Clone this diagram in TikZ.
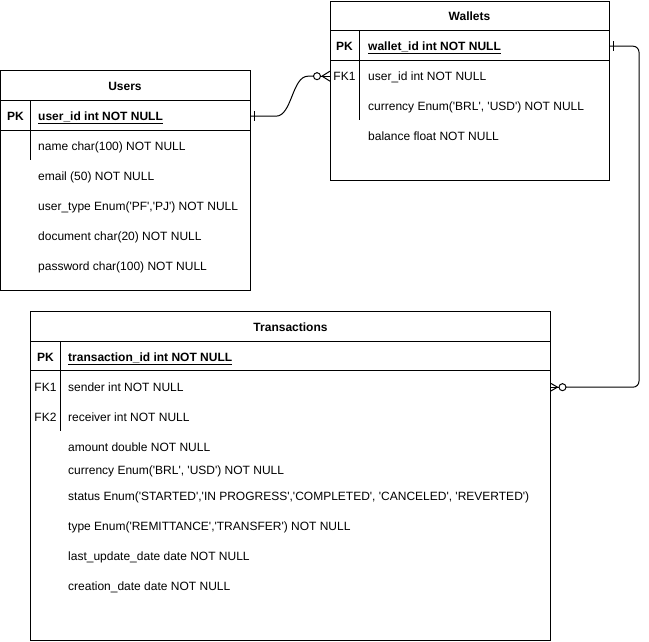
\documentclass[tikz,border=0pt]{standalone}
\usepackage{fontspec}
\setmainfont{Liberation Sans}[Ligatures=TeXOff]
\begin{document}
\begin{tikzpicture}[x=1pt,y=-1pt,
  tbl/.style={draw, line width=1pt, anchor=north west, inner sep=0pt, outer sep=0pt},
  fld/.style={anchor=base west, inner sep=0pt, font=\fontsize{12}{14}\selectfont},
  keylbl/.style={anchor=base, inner sep=0pt, font=\fontsize{12}{14}\selectfont\bfseries},
  pkfld/.style={anchor=base west, inner sep=0pt, font=\fontsize{12}{14}\selectfont\bfseries},
  fklbl/.style={anchor=base, inner sep=0pt, font=\fontsize{12}{14}\selectfont},
  ttl/.style={anchor=base, inner sep=0pt, font=\fontsize{12}{14}\selectfont\bfseries},
  ln/.style={line width=1pt},
]
\useasboundingbox (0,0) rectangle (649,641);

% ---------------- Users ----------------
\node[tbl, minimum width=249.5pt, minimum height=220pt] (users) at (0.5,70) {};
\draw[ln] (0.5,100) -- (250,100);
\draw[ln] (0.5,130) -- (250,130);
\draw[ln] (30.5,100) -- (30.5,160);
\node[ttl] (ut) at (125,90.3) {Users};
\node[keylbl] (upk) at (15.5,120.3) {PK};
\node[pkfld] (upkf) at (38,120.3) {\underline{user\_id int NOT NULL}};
\node[fld] (u1) at (38,150.3) {name char(100) NOT NULL};
\node[fld] (u2) at (38,180.3) {email (50) NOT NULL};
\node[fld] (u3) at (38,210.3) {user\_type Enum('PF','PJ') NOT NULL};
\node[fld] (u4) at (38,240.3) {document char(20) NOT NULL};
\node[fld] (u5) at (38,270.3) {password char(100) NOT NULL};

% ---------------- Wallets ----------------
\node[tbl, minimum width=279pt, minimum height=179pt] (wallets) at (330,1) {};
\draw[ln] (330,30.5) -- (609,30.5);
\draw[ln] (330,60) -- (609,60);
\draw[ln] (359.5,30.5) -- (359.5,120);
\node[ttl] (wt) at (469.5,20.3) {Wallets};
\node[keylbl] (wpk) at (344.5,50.3) {PK};
\node[pkfld] (wpkf) at (368,50.3) {\underline{wallet\_id int NOT NULL}};
\node[fklbl] (wfk) at (344.5,80.3) {FK1};
\node[fld] (w1) at (368,80.3) {user\_id int NOT NULL};
\node[fld] (w2) at (368,110.3) {currency Enum('BRL', 'USD') NOT NULL};
\node[fld] (w3) at (368,140.3) {balance float NOT NULL};

% ---------------- Transactions ----------------
\node[tbl, minimum width=520pt, minimum height=329pt] (trans) at (30.5,311) {};
\draw[ln] (30.5,341) -- (550.5,341);
\draw[ln] (30.5,370.5) -- (550.5,370.5);
\draw[ln] (60.5,341) -- (60.5,431);
\node[ttl] (tt) at (290.5,331.3) {Transactions};
\node[keylbl] (tpk) at (45.5,361.3) {PK};
\node[pkfld] (tpkf) at (68,361.3) {\underline{transaction\_id int NOT NULL}};
\node[fklbl] (tfk1) at (45.5,391.3) {FK1};
\node[fld] (t1) at (68,391.3) {sender int NOT NULL};
\node[fklbl] (tfk2) at (45.5,421.3) {FK2};
\node[fld] (t2) at (68,421.3) {receiver int NOT NULL};
\node[fld] (t3) at (68,451.3) {amount double NOT NULL};
\node[fld] (t4) at (68,474.3) {currency Enum('BRL', 'USD') NOT NULL};
\node[fld] (t5) at (68,500.3) {status Enum('STARTED','IN PROGRESS','COMPLETED', 'CANCELED', 'REVERTED')};
\node[fld] (t6) at (68,530.3) {type Enum('REMITTANCE','TRANSFER') NOT NULL};
\node[fld] (t7) at (68,560.3) {last\_update\_date date NOT NULL};
\node[fld] (t8) at (68,590.3) {creation\_date date NOT NULL};

% ---------------- Connector Users -> Wallets ----------------
\coordinate (a1) at (users.east |- upk);
\coordinate (b1) at (wallets.west |- wfk);
\draw[ln] (a1) -- ([xshift=26pt]a1) .. controls ([xshift=42pt]a1) and ([xshift=-38pt]b1) .. ([xshift=-22pt]b1) -- ([xshift=-16.5pt]b1);
\draw[ln] ([xshift=4pt,yshift=5pt]a1) -- ([xshift=4pt,yshift=-5pt]a1);
\draw[ln] ([xshift=-13pt]b1) circle[radius=3.5pt];
\draw[ln] ([xshift=-9.5pt]b1) -- (b1);
\draw[ln] ([yshift=5pt]b1) -- ([xshift=-8pt]b1) -- ([yshift=-5pt]b1);

% ---------------- Connector Wallets -> Transactions ----------------
\coordinate (a2) at (wallets.east |- wpk);
\coordinate (b2) at (trans.east |- tfk1);
\draw[ln, rounded corners=6pt] (a2) -- ([xshift=30pt]a2) |- ([xshift=15.5pt]b2);
\draw[ln] ([xshift=4pt,yshift=5pt]a2) -- ([xshift=4pt,yshift=-5pt]a2);
\draw[ln] ([xshift=12pt]b2) circle[radius=3.5pt];
\draw[ln] ([xshift=8.5pt]b2) -- (b2);
\draw[ln] ([yshift=4pt]b2) -- ([xshift=7pt]b2) -- ([yshift=-4pt]b2);
\end{tikzpicture}
\end{document}
